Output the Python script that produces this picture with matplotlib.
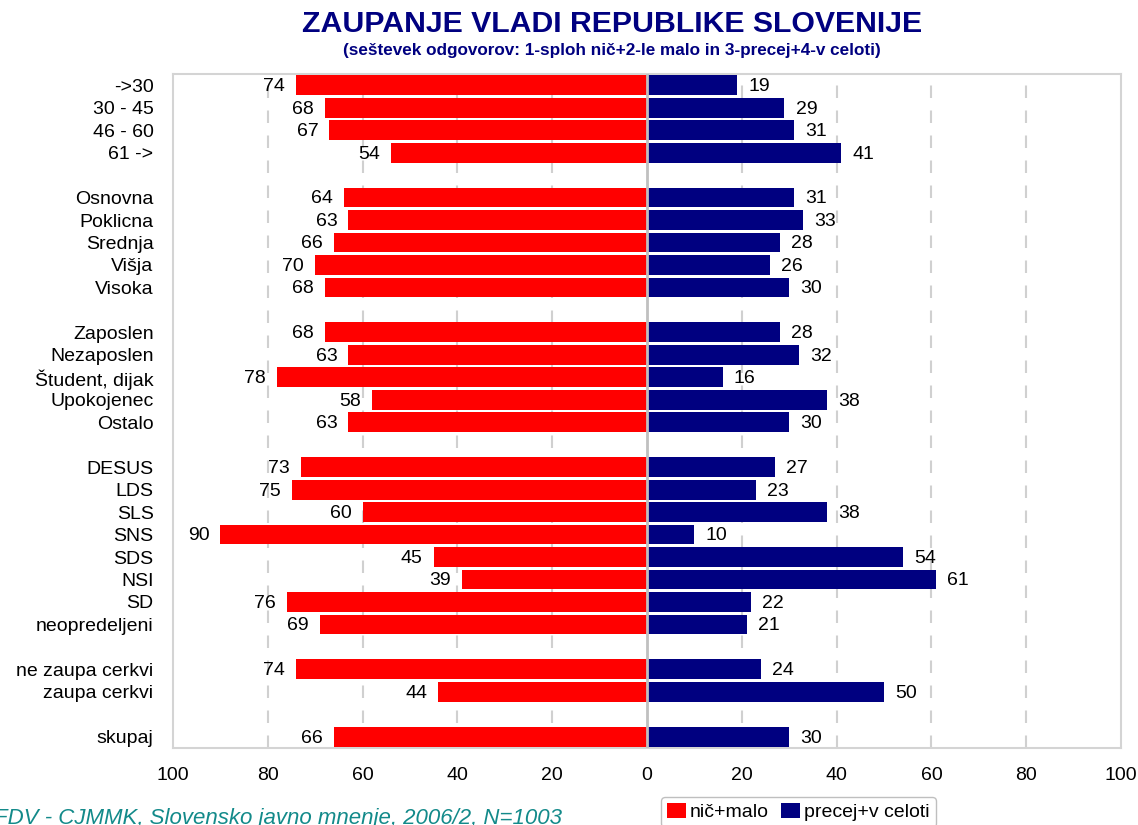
import numpy as np
import matplotlib
matplotlib.use("Agg")
import matplotlib.pyplot as plt
from matplotlib.patches import Patch

# Data (None = spacer row between groups)
labels = ["->30", "30 - 45", "46 - 60", "61 ->", "",
          "Osnovna", "Poklicna", "Srednja", "Višja", "Visoka", "",
          "Zaposlen", "Nezaposlen", "Študent, dijak", "Upokojenec", "Ostalo", "",
          "DESUS", "LDS", "SLS", "SNS", "SDS", "NSI", "SD", "neopredeljeni", "",
          "ne zaupa cerkvi", "zaupa cerkvi", "",
          "skupaj"]
nic_malo = [74, 68, 67, 54, None,
            64, 63, 66, 70, 68, None,
            68, 63, 78, 58, 63, None,
            73, 75, 60, 90, 45, 39, 76, 69, None,
            74, 44, None,
            66]
precej = [19, 29, 31, 41, None,
          31, 33, 28, 26, 30, None,
          28, 32, 16, 38, 30, None,
          27, 23, 38, 10, 54, 61, 22, 21, None,
          24, 50, None,
          30]
xticks = [-100, -80, -60, -40, -20, 0, 20, 40, 60, 80, 100]

RED = "#ff0000"
NAVY = "#000080"

plt.rcParams['font.family'] = ['Liberation Sans', 'DejaVu Sans']

W, H = 1138, 825
fig = plt.figure(figsize=(W / 100, H / 100), dpi=100)
ax = fig.add_axes([173 / W, (H - 748) / H, (1121 - 173) / W, (748 - 74) / H])

y = np.arange(len(labels))
left = np.array([np.nan if v is None else -v for v in nic_malo], dtype=float)
right = np.array([np.nan if v is None else v for v in precej], dtype=float)

ax.barh(y, left, height=0.88, color=RED, zorder=3)
ax.barh(y, right, height=0.88, color=NAVY, zorder=3)

# value labels outside the bar ends
for yi, l, r in zip(y, left, right):
    if np.isnan(l):
        continue
    ax.annotate(f"{int(-l)}", (l, yi), xytext=(-8, -1), textcoords="offset points",
                ha="right", va="center", fontsize=14)
    ax.annotate(f"{int(r)}", (r, yi), xytext=(8, -1), textcoords="offset points",
                ha="left", va="center", fontsize=14)

ax.set_xlim(-100, 100)
ax.set_ylim(len(labels) - 0.5, -0.5)
ax.set_yticks(y)
ax.set_yticklabels(labels, fontsize=14)
ax.set_xticks(xticks)
ax.set_xticklabels([str(abs(t)) for t in xticks], fontsize=14)
ax.tick_params(length=0, pad=14)

for t in xticks[1:-1]:
    if t == 0:
        continue
    ax.axvline(t, color="#d0d0d0", lw=1.5, ls=(0, (6, 6)), zorder=1)
ax.axvline(0, color="#c0c0c0", lw=2, zorder=4)
for s in ax.spines.values():
    s.set_color("#d4d4d4")
    s.set_linewidth(1.5)

fig.text(612 / W, 1 - 24 / H, "ZAUPANJE VLADI REPUBLIKE SLOVENIJE", ha="center", va="center",
         fontsize=21.8, fontweight="bold", color=NAVY)
fig.text(612 / W, 1 - 51 / H,
         "(seštevek odgovorov: 1-sploh nič+2-le malo in 3-precej+4-v celoti)",
         ha="center", va="center", fontsize=12.3, fontweight="bold", color=NAVY)

fig.text(-6 / W, 1 / H, "FDV - CJMMK, Slovensko javno mnenje, 2006/2, N=1003",
         ha="left", va="baseline", fontsize=16, style="italic", color="#138a8a")

handles = [Patch(facecolor=RED, label="nič+malo"), Patch(facecolor=NAVY, label="precej+v celoti")]
fig.legend(handles=handles, loc="upper left", bbox_to_anchor=(661 / W, 1 - 797 / H),
           ncol=2, fontsize=14, frameon=True, fancybox=True, edgecolor="#b0b0b0",
           handlelength=1.0, handleheight=0.8, handletextpad=0.2, columnspacing=0.6,
           borderpad=0.3, borderaxespad=0)

fig.savefig("out.png", dpi=100)
